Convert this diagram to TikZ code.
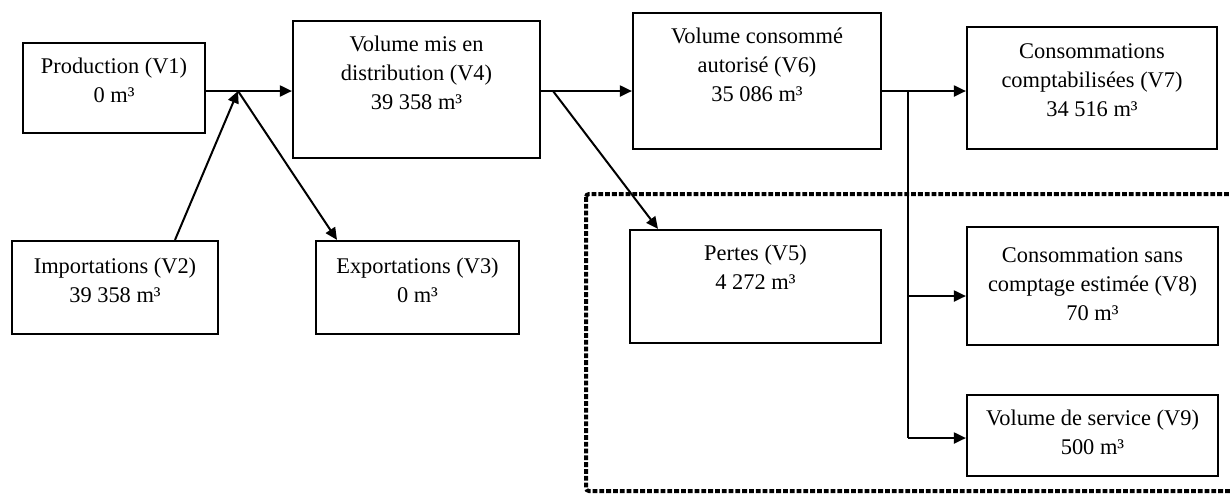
\documentclass[tikz,border=0pt]{standalone}
\usepackage{fontspec}
\setmainfont{Liberation Serif}
\usetikzlibrary{arrows.meta,calc}
\begin{document}
\begin{tikzpicture}[x=0.5pt,y=-0.5pt,
  box/.style={draw, line width=1.1pt, rectangle, inner sep=0pt},
  txt/.style={anchor=north, inner sep=0pt, align=center, font=\fontsize{11.2}{14.5}\selectfont},
  arr/.style={line width=1pt, -{Triangle[length=6pt,width=5.5pt]}},
  ln/.style={line width=1pt},
  dashbox/.style={line width=2pt, dash pattern=on 2.4pt off 1pt, rounded corners=1.5pt}]
\useasboundingbox (0,0) rectangle (1230,494);
\clip (0,0) rectangle (1230,494);

% dashed frame
\draw[dashbox] (586,194) rectangle (1260,491);

% boxes
\node[box, minimum width=91pt,    minimum height=45pt]   (v1) at (114,88) {};
\node[box, minimum width=123.5pt, minimum height=68.5pt] (v4) at (416.5,89.5) {};
\node[box, minimum width=103pt,   minimum height=46.5pt] (v2) at (115,287.5) {};
\node[box, minimum width=101.5pt, minimum height=46.5pt] (v3) at (417.5,287.5) {};
\node[box, minimum width=124pt,   minimum height=68pt]   (v6) at (757,81) {};
\node[box, minimum width=125.5pt, minimum height=56.5pt] (v5) at (755.5,286.5) {};
\node[box, minimum width=125pt,   minimum height=61pt]   (v7) at (1092,88) {};
\node[box, minimum width=125.5pt, minimum height=59pt]   (v8) at (1092.5,286) {};
\node[box, minimum width=125.5pt, minimum height=40.5pt] (v9) at (1092.5,435.5) {};

% texts
\node[txt] (t1) at ($(v1.north)+(0,11)$) {\strut Production (V1)\\0 m³};
\node[txt] (t4) at ($(v4.north)+(0,11)$) {\strut Volume mis en\\distribution (V4)\\39 358 m³};
\node[txt] (t2) at ($(v2.north)+(0,13)$) {\strut Importations (V2)\\39 358 m³};
\node[txt] (t3) at ($(v3.north)+(0,13)$) {\strut Exportations (V3)\\0 m³};
\node[txt] (t6) at ($(v6.north)+(0,11)$) {\strut Volume consommé\\autorisé (V6)\\35 086 m³};
\node[txt] (t5) at ($(v5.north)+(0,11)$) {\strut Pertes (V5)\\4 272 m³};
\node[txt] (t7) at ($(v7.north)+(0,12)$) {\strut Consommations\\comptabilisées (V7)\\34 516 m³};
\node[txt] (t8) at ($(v8.north)+(0,16)$) {\strut Consommation sans\\comptage estimée (V8)\\70 m³};
\node[txt] (t9) at ($(v9.north)+(0,11)$) {\strut Volume de service (V9)\\500 m³};

% helper coordinates
\coordinate (row) at (0,91);
\coordinate (j1) at (238,91);
\coordinate (j2) at (553,91);
\coordinate (j3) at (908,91);
\coordinate (x2) at (175,0);
\coordinate (x3) at (337,0);
\coordinate (x5) at (658,0);
\coordinate (y8) at (0,296);
\coordinate (y9) at (0,438);

% connectors
\draw[arr] (v1.east |- row) -- (v4.west |- row);
\draw[arr] (v2.north -| x2) -- (j1);
\draw[arr] (j1) -- (v3.north -| x3);
\draw[arr] (v4.east |- row) -- (v6.west |- row);
\draw[arr] (j2) -- (v5.north -| x5);
\draw[arr] (v6.east |- row) -- (v7.west |- row);
\draw[ln] (j3) -- (j3 |- y9);
\draw[arr] (j3 |- y8) -- (v8.west |- y8);
\draw[arr] (j3 |- y9) -- (v9.west |- y9);
\end{tikzpicture}
\end{document}
